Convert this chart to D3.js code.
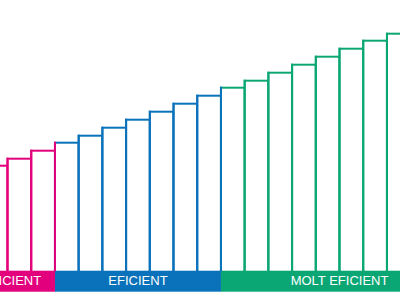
<!DOCTYPE html>
<html>
<head>
<meta charset="utf-8">
<script src="https://cdn.jsdelivr.net/npm/d3@7"></script>
<style>
  html, body { margin: 0; padding: 0; background: #fff; }
  svg { display: block; }
</style>
</head>
<body>
<svg id="chart" width="400" height="300"></svg>
<script>
// Groups: name, first bar slot, slot after last bar (slots include bars cut off by the crop)
const groupNames = ["POC EFICIENT", "EFICIENT", "MOLT EFICIENT"];
const groupStart = [0, 5, 12];
const groupEnd   = [5, 12, 22];
const groupColors = ["#e3007d", "#0a72ba", "#0aa774"];
// Visible bars: slot index, group index, value
const barSlots  = [2, 3, 4, 5, 6, 7, 8, 9, 10, 11, 12, 13, 14, 15, 16, 17, 18, 19];
const barGroups = [0, 0, 0, 1, 1, 1, 1, 1, 1, 1, 2, 2, 2, 2, 2, 2, 2, 2];
const barValues = [106, 113, 121, 129, 136, 144, 152, 160, 168, 176, 184, 191, 199, 207, 215, 223, 231, 238];

const svg = d3.select("#chart");
const baseY = 271.7, bandH = 20;

const x = d3.scaleLinear().domain([0, 22]).range([-63.6, 458.1]);
const y = d3.scaleLinear().domain([0, 250]).range([baseY, baseY - 250]);
const bw = x(1) - x(0);

const bars = barSlots.map((s, i) => ({ slot: s, group: barGroups[i], value: barValues[i] }));

// bar outlines
svg.append("g").selectAll("rect").data(bars).join("rect")
  .attr("x", d => x(d.slot))
  .attr("y", d => y(d.value))
  .attr("width", bw)
  .attr("height", d => baseY - y(d.value))
  .attr("fill", "#fff")
  .attr("stroke", d => groupColors[d.group])
  .attr("stroke-width", 2);

// shared left edges take the colour of the left neighbour
svg.append("g").selectAll("line").data(bars.slice(1)).join("line")
  .attr("x1", d => x(d.slot)).attr("x2", d => x(d.slot))
  .attr("y1", baseY).attr("y2", d => y(d.value) - 1)
  .attr("stroke", (d, i) => groupColors[bars[i].group])
  .attr("stroke-width", 2);

// group bands
const groups = groupNames.map((n, i) => ({ name: n, start: groupStart[i], end: groupEnd[i], color: groupColors[i] }));
const gb = svg.append("g");
gb.selectAll("rect").data(groups).join("rect")
  .attr("x", d => x(d.start))
  .attr("y", baseY)
  .attr("width", d => x(d.end) - x(d.start))
  .attr("height", bandH)
  .attr("fill", d => d.color);
gb.selectAll("text").data(groups).join("text")
  .attr("x", d => (x(d.start) + x(d.end)) / 2)
  .attr("y", baseY + 13.4)
  .attr("text-anchor", "middle")
  .attr("fill", "#fff")
  .attr("font-family", "Liberation Sans, Arial, sans-serif")
  .attr("font-size", 13)
  .text(d => d.name);
</script>
</body>
</html>
